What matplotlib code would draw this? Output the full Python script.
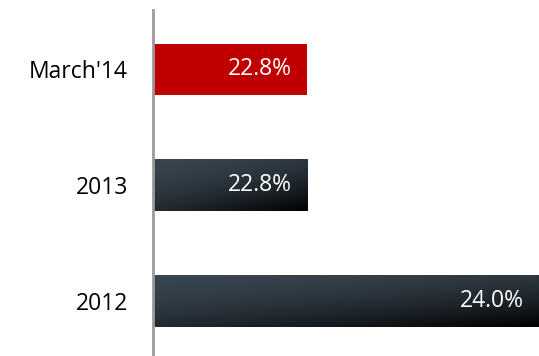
import numpy as np
import matplotlib.pyplot as plt
from matplotlib.colors import to_rgb

plt.rcParams['font.family'] = ['Open Sans', 'DejaVu Sans']

categories = ["2012", "2013", "March'14"]
values = [24.0, 22.8, 22.8]
labels = ["24.0%", "22.8%", "22.8%"]
x_start = 22.0
x_end = 24.0

fig = plt.figure(figsize=(5.39, 3.56), dpi=100)
ax = fig.add_axes([153 / 539, 0, 1 - 153 / 539, 346 / 356])

bar_h = 0.44
top_col = np.array(to_rgb("#38444e"))


def gradient_image(nx=200, ny=60):
    # diagonal slate-to-black fill, darker toward the lower right
    u = np.linspace(0, 1, nx)[None, :]
    v = np.linspace(0, 1, ny)[:, None]
    t = np.clip(0.6 * v + 0.4 * u, 0, 1) ** 1.8
    img = top_col[None, None, :] * (1 - t[..., None])
    return img


for i, (cat, val, lab) in enumerate(zip(categories, values, labels)):
    y0, y1 = i - bar_h / 2, i + bar_h / 2
    if cat == "March'14":
        ax.barh(i, val - x_start, left=x_start, height=bar_h, color="#c00000", zorder=2)
    else:
        ax.imshow(gradient_image(), extent=(x_start, val, y0, y1), origin="upper",
                  aspect="auto", interpolation="bilinear", zorder=2)
    ax.annotate(lab, xy=(val, i), xytext=(-11, 0), textcoords="offset points",
                ha="right", va="center", color="white", fontsize=16.5, zorder=3)

ax.set_xlim(x_start, x_end)
ax.set_ylim(-0.47, 2.51)
ax.set_yticks(range(len(categories)))
ax.set_yticklabels(categories, fontsize=16.5)
ax.tick_params(axis="y", length=0, pad=18)
ax.set_xticks([])

for side in ["top", "right", "bottom"]:
    ax.spines[side].set_visible(False)
ax.spines["left"].set_color("#9a9a9a")
ax.spines["left"].set_linewidth(2)
ax.spines["left"].set_zorder(4)

fig.savefig("out.png", dpi=100)
